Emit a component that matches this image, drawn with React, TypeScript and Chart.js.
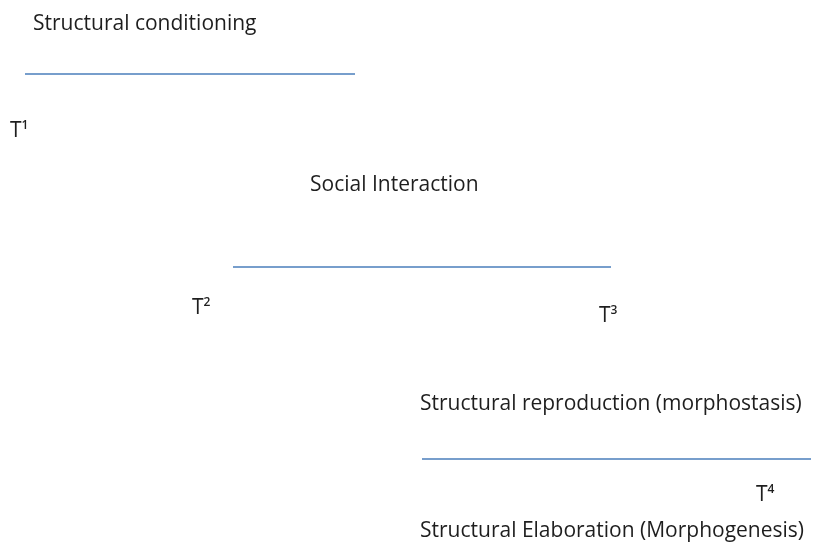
import React, { useEffect, useRef } from "react";
import { Chart, registerables } from "chart.js";

Chart.register(...registerables);

// Phase lines of the morphogenetic cycle (diagram units = pixels of the 814x543 frame)
const phaseNames = ["Structural conditioning", "Social Interaction", "Structural elaboration"];
const phaseStartX = [25, 233, 422];
const phaseEndX = [355, 611, 811];
const phaseY = [74, 267, 459];

// Text labels
const labelTexts = [
  "Structural conditioning",
  "Social Interaction",
  "Structural reproduction (morphostasis)",
  "Structural Elaboration (Morphogenesis)",
];
const labelX = [33, 310, 420, 420];
const labelY = [24, 185, 404, 531];

// Time markers T1..T4
const timeBase = ["T", "T", "T", "T"];
const timeSup = ["1", "2", "3", "4"];
const timeX = [10, 192, 599, 756];
const timeY = [131, 308, 316, 495];

const FONT = '"Open Sans", "Noto Sans", sans-serif';
const TEXT_COLOR = "#1e1e1e";

const textPlugin = {
  id: "diagramText",
  afterDatasetsDraw(chart: any) {
    const { ctx, scales } = chart;
    const xs = scales.x;
    const ys = scales.y;
    ctx.save();
    ctx.fillStyle = TEXT_COLOR;
    ctx.textBaseline = "middle";
    ctx.textAlign = "left";
    ctx.font = `21px ${FONT}`;
    labelTexts.forEach((t, i) => {
      ctx.fillText(t, xs.getPixelForValue(labelX[i]), ys.getPixelForValue(labelY[i]));
    });
    timeBase.forEach((t, i) => {
      const px = xs.getPixelForValue(timeX[i]);
      const py = ys.getPixelForValue(timeY[i]);
      ctx.font = `21px ${FONT}`;
      ctx.fillText(t, px, py);
      const w = ctx.measureText(t).width;
      ctx.font = `600 12px ${FONT}`;
      ctx.fillText(timeSup[i], px + w, py - 5);
    });
    ctx.restore();
  },
};

export default function App() {
  const ref = useRef<HTMLCanvasElement | null>(null);
  useEffect(() => {
    if (!ref.current) return;
    const datasets = phaseNames.map((name, i) => ({
      label: name,
      data: [
        { x: phaseStartX[i], y: phaseY[i] },
        { x: phaseEndX[i], y: phaseY[i] },
      ],
      showLine: true,
      borderColor: "#4a7ebb",
      borderWidth: 1.5,
      pointRadius: 0,
      fill: false,
    }));
    const chart = new Chart(ref.current, {
      type: "scatter",
      data: { datasets },
      options: {
        animation: false,
        responsive: false,
        devicePixelRatio: 1,
        layout: { padding: 0 },
        plugins: { legend: { display: false }, tooltip: { enabled: false } },
        scales: {
          x: { type: "linear", min: 0, max: 814, display: false },
          y: { type: "linear", min: 0, max: 543, reverse: true, display: false },
        },
      },
      plugins: [textPlugin],
    });
    return () => chart.destroy();
  }, []);
  return (
    <div style={{ position: "absolute", left: 0, top: 0, width: 814, height: 543, background: "#ffffff" }}>
      <canvas ref={ref} width={814} height={543} />
    </div>
  );
}
